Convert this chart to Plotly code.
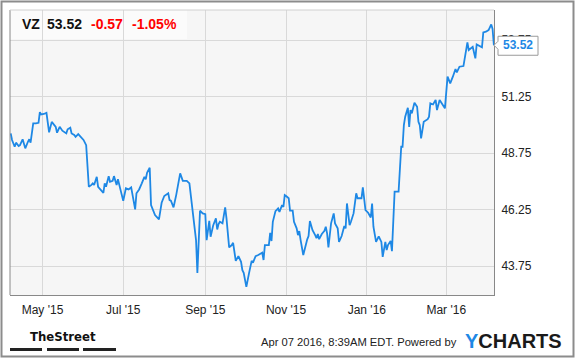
import plotly.graph_objects as go

ticker = "VZ"
last_price = 53.52
change = -0.57
change_pct = -1.05
stamp = "Apr 07 2016, 8:39AM EDT. Powered by"

dates = [
    "2015-04-07", "2015-04-08", "2015-04-10", "2015-04-11", "2015-04-13", "2015-04-14", "2015-04-16",
    "2015-04-18", "2015-04-20", "2015-04-21", "2015-04-22", "2015-04-24", "2015-04-26", "2015-04-28",
    "2015-04-29", "2015-04-30", "2015-05-02", "2015-05-04", "2015-05-06", "2015-05-08", "2015-05-11",
    "2015-05-12", "2015-05-14", "2015-05-16", "2015-05-19", "2015-05-20", "2015-05-22", "2015-05-23",
    "2015-05-25", "2015-05-26", "2015-05-28", "2015-05-30", "2015-06-01", "2015-06-03", "2015-06-05",
    "2015-06-07", "2015-06-08", "2015-06-09", "2015-06-11", "2015-06-12", "2015-06-14", "2015-06-16",
    "2015-06-17", "2015-06-18", "2015-06-20", "2015-06-21", "2015-06-23", "2015-06-24", "2015-06-26",
    "2015-06-27", "2015-06-29", "2015-07-01", "2015-07-03", "2015-07-05", "2015-07-07", "2015-07-10",
    "2015-07-11", "2015-07-13", "2015-07-15", "2015-07-17", "2015-07-18", "2015-07-19", "2015-07-21",
    "2015-07-22", "2015-07-25", "2015-07-28", "2015-07-30", "2015-08-01", "2015-08-04", "2015-08-05",
    "2015-08-06", "2015-08-08", "2015-08-10", "2015-08-13", "2015-08-15", "2015-08-18", "2015-08-20",
    "2015-08-23", "2015-08-25", "2015-08-26", "2015-08-28", "2015-08-30", "2015-09-01", "2015-09-02",
    "2015-09-04", "2015-09-05", "2015-09-07", "2015-09-09", "2015-09-10", "2015-09-11", "2015-09-12",
    "2015-09-14", "2015-09-16", "2015-09-17", "2015-09-19", "2015-09-21", "2015-09-22", "2015-09-24",
    "2015-09-26", "2015-09-28", "2015-09-29", "2015-09-30", "2015-10-02", "2015-10-04", "2015-10-06",
    "2015-10-07", "2015-10-09", "2015-10-11", "2015-10-12", "2015-10-14", "2015-10-15", "2015-10-16",
    "2015-10-19", "2015-10-20", "2015-10-21", "2015-10-22", "2015-10-24", "2015-10-26", "2015-10-27",
    "2015-10-29", "2015-10-30", "2015-10-31", "2015-11-01", "2015-11-03", "2015-11-04", "2015-11-06",
    "2015-11-07", "2015-11-09", "2015-11-10", "2015-11-11", "2015-11-12", "2015-11-14", "2015-11-17",
    "2015-11-18", "2015-11-19", "2015-11-21", "2015-11-23", "2015-11-24", "2015-11-25", "2015-11-26",
    "2015-11-28", "2015-11-30", "2015-12-01", "2015-12-02", "2015-12-03", "2015-12-05", "2015-12-06",
    "2015-12-07", "2015-12-08", "2015-12-10", "2015-12-11", "2015-12-13", "2015-12-15", "2015-12-16",
    "2015-12-17", "2015-12-18", "2015-12-19", "2015-12-20", "2015-12-22", "2015-12-24", "2015-12-25",
    "2015-12-28", "2015-12-29", "2015-12-31", "2016-01-02", "2016-01-04", "2016-01-05", "2016-01-06",
    "2016-01-08", "2016-01-10", "2016-01-12", "2016-01-13", "2016-01-15", "2016-01-16", "2016-01-17",
    "2016-01-19", "2016-01-20", "2016-01-22", "2016-01-25", "2016-01-27", "2016-01-28", "2016-01-29",
    "2016-01-30", "2016-02-01", "2016-02-02", "2016-02-03", "2016-02-04", "2016-02-06", "2016-02-08",
    "2016-02-09", "2016-02-10", "2016-02-11", "2016-02-13", "2016-02-16", "2016-02-17", "2016-02-18",
    "2016-02-20", "2016-02-22", "2016-02-23", "2016-02-25", "2016-02-27", "2016-02-29", "2016-03-02",
    "2016-03-04", "2016-03-06", "2016-03-08", "2016-03-09", "2016-03-11", "2016-03-14", "2016-03-17",
    "2016-03-18", "2016-03-20", "2016-03-21", "2016-03-23", "2016-03-24", "2016-03-28", "2016-03-29",
    "2016-03-31", "2016-04-02", "2016-04-04", "2016-04-05", "2016-04-06",
]

prices = [
    49.62, 49.33, 49.03, 49.21, 49.06, 49.10, 49.36,
    48.96, 49.25, 49.36, 49.21, 50.06, 50.06, 50.09,
    50.56, 50.46, 50.48, 50.53, 49.67, 50.13, 49.91,
    49.65, 49.91, 49.74, 49.62, 49.80, 49.87, 49.62,
    49.55, 49.47, 49.59, 49.47, 49.33, 49.10, 47.26,
    47.34, 47.41, 47.34, 47.70, 47.26, 47.14, 46.99,
    47.41, 47.26, 47.73, 47.48, 47.52, 47.73, 47.34,
    47.59, 47.11, 46.64, 47.19, 47.14, 47.23, 46.26,
    46.97, 47.14, 47.41, 47.70, 47.59, 47.88, 48.10,
    46.45, 46.01, 45.82, 46.55, 46.85, 46.97, 46.67,
    46.64, 46.35, 46.89, 47.85, 47.52, 47.52, 47.41,
    45.86, 44.90, 43.45, 46.20, 46.08, 46.05, 44.90,
    45.75, 45.05, 45.56, 45.86, 45.37, 45.61, 45.71,
    45.64, 46.35, 45.86, 44.58, 44.68, 44.78, 43.98,
    44.19, 43.94, 43.57, 43.45, 42.83, 43.43, 43.98,
    43.90, 44.19, 44.24, 44.28, 44.34, 44.02, 44.68,
    44.68, 45.22, 44.86, 45.71, 46.18, 46.30, 46.15,
    46.45, 46.37, 46.89, 46.85, 46.75, 46.20, 46.20,
    45.71, 45.42, 45.12, 45.30, 44.90, 44.24, 44.93,
    45.08, 45.74, 45.34, 45.12, 44.98, 45.17, 44.94,
    45.17, 45.31, 45.49, 45.20, 44.58, 45.64, 45.86,
    46.08, 45.64, 45.42, 44.82, 45.08, 45.52, 45.42,
    46.52, 45.93, 45.56, 45.71, 46.08, 46.97, 46.75,
    46.75, 47.23, 46.23, 46.11, 45.90, 46.52, 45.49,
    44.82, 45.06, 44.82, 44.16, 44.82, 44.46, 44.68,
    44.86, 44.41, 47.04, 47.04, 49.03, 49.03, 49.99,
    50.36, 50.75, 49.91, 50.65, 50.51, 50.98, 50.80,
    50.13, 49.99, 49.40, 50.13, 50.25, 50.36, 50.95,
    50.90, 51.10, 50.65, 51.10, 50.90, 50.73, 52.13,
    51.83, 52.13, 52.47, 52.32, 52.57, 52.60, 53.65,
    53.31, 53.43, 53.45, 52.94, 53.56, 53.43, 54.09,
    54.12, 54.19, 54.44, 54.24, 53.52,
]

y_ticks = [43.75, 46.25, 48.75, 51.25, 53.75]
y_range = [42.47, 55.08]
x_range = ["2015-04-06 11:00", "2016-04-06 02:00"]

FONT = "Liberation Sans, Arial, sans-serif"
BLUE = "#1e88e5"
RED = "#ff0000"

fig = go.Figure(
    go.Scatter(
        x=dates, y=prices, mode="lines",
        line=dict(color=BLUE, width=1.8),
        hoverinfo="skip",
    )
)

# plot area: x 10..494, y 10..295 in a 575x358 canvas
W, H = 575, 358
L, R, T, B = 10, 494, 10, 295


def px(xp):
    return (xp - L) / (R - L)


def py(yp):
    return (B - yp) / (B - T)


last_y = (last_price - y_range[0]) / (y_range[1] - y_range[0])

shapes = [
    # header box
    dict(type="rect", xref="paper", yref="paper", x0=0, x1=px(187), y0=py(39), y1=1,
         fillcolor="#fbfbfb", line=dict(width=0), layer="below"),
    # left and top borders of plot
    dict(type="line", xref="paper", yref="paper", x0=0, x1=0, y0=0, y1=1,
         line=dict(color="#888888", width=1)),
    dict(type="line", xref="paper", yref="paper", x0=0, x1=1, y0=1, y1=1,
         line=dict(color="#d0d0d0", width=1)),
    # outer frame
    dict(type="rect", xref="paper", yref="paper", x0=px(1.5), x1=px(573.5), y0=py(356.5), y1=py(1.5),
         line=dict(color="#8c8c8c", width=2), fillcolor="rgba(0,0,0,0)"),
    # callout for last price
    dict(type="path", xref="paper", yref="paper", xsizemode="pixel", ysizemode="pixel",
         xanchor=1.0, yanchor=last_y,
         path="M 0 0 L 4 4 L 4 9 L 44 9 L 44 -10 L 4 -10 L 4 -4 Z",
         fillcolor="white", line=dict(color="#9a9a9a", width=1), layer="above"),
]
# TheStreet bars
for x0, x1 in [(10, 42), (47, 79), (83, 116)]:
    shapes.append(dict(type="rect", xref="paper", yref="paper", x0=px(x0), x1=px(x1),
                       y0=py(351), y1=py(348), fillcolor="#222222", line=dict(width=0)))

annotations = [
    dict(text=f"<b>{ticker}</b>", x=px(20), y=py(24), xanchor="left", yanchor="middle",
         font=dict(family=FONT, size=14, color="#111111")),
    dict(text=f"<b>{last_price:.2f}</b>", x=px(45), y=py(24), xanchor="left", yanchor="middle",
         font=dict(family=FONT, size=14, color="#111111")),
    dict(text=f"<b>{change:.2f}</b>", x=px(89), y=py(24), xanchor="left", yanchor="middle",
         font=dict(family=FONT, size=14, color=RED)),
    dict(text=f"<b>{change_pct:.2f}%</b>", x=px(130), y=py(24), xanchor="left", yanchor="middle",
         font=dict(family=FONT, size=14, color=RED)),
    dict(text=f"<b>{last_price:.2f}</b>", x=1.0, y=last_y, xanchor="center", yanchor="middle",
         xshift=24, yshift=0, font=dict(family=FONT, size=12, color=BLUE)),
    dict(text="<b>TheStreet</b>", x=px(63), y=py(336), xanchor="center", yanchor="middle",
         font=dict(family="DejaVu Sans Condensed, sans-serif", size=13, color="#111111")),
    dict(text=stamp, x=px(459), y=py(342), xanchor="right", yanchor="middle",
         font=dict(family=FONT, size=11.2, color="#222222")),
    dict(text=f"<b><span style='color:{BLUE}'>Y</span>CHARTS</b>", x=px(463), y=py(341),
         xanchor="left", yanchor="middle",
         font=dict(family=FONT, size=20, color="#1a1a1a")),
]
for a in annotations:
    a.update(xref="paper", yref="paper", showarrow=False)

fig.update_layout(
    width=W, height=H,
    margin=dict(l=L, r=W - R, t=T, b=H - B, pad=0),
    paper_bgcolor="white",
    plot_bgcolor="#f6f6f6",
    showlegend=False,
    shapes=shapes,
    annotations=annotations,
    xaxis=dict(
        type="date", range=x_range, tick0="2015-05-01", dtick="M2", tickformat="%b '%y",
        showgrid=True, gridcolor="#d9d9d9", gridwidth=1, zeroline=False,
        showline=True, linecolor="#888888", linewidth=1,
        ticks="outside", ticklen=4, tickcolor="rgba(0,0,0,0)",
        tickfont=dict(family=FONT, size=12, color="#222222"),
        fixedrange=True,
    ),
    yaxis=dict(
        side="right", range=y_range, tickvals=y_ticks,
        ticktext=[f"{v:.2f}" for v in y_ticks],
        showgrid=True, gridcolor="#d9d9d9", gridwidth=1, zeroline=False,
        showline=True, linecolor="#888888", linewidth=1,
        ticks="outside", ticklen=4, tickcolor="rgba(0,0,0,0)",
        tickfont=dict(family=FONT, size=12, color="#222222"),
        fixedrange=True,
    ),
)

fig.write_html(
    "out.html",
    config={"displayModeBar": False},
    post_script="document.body.style.margin='0';document.body.style.overflow='hidden';",
)
